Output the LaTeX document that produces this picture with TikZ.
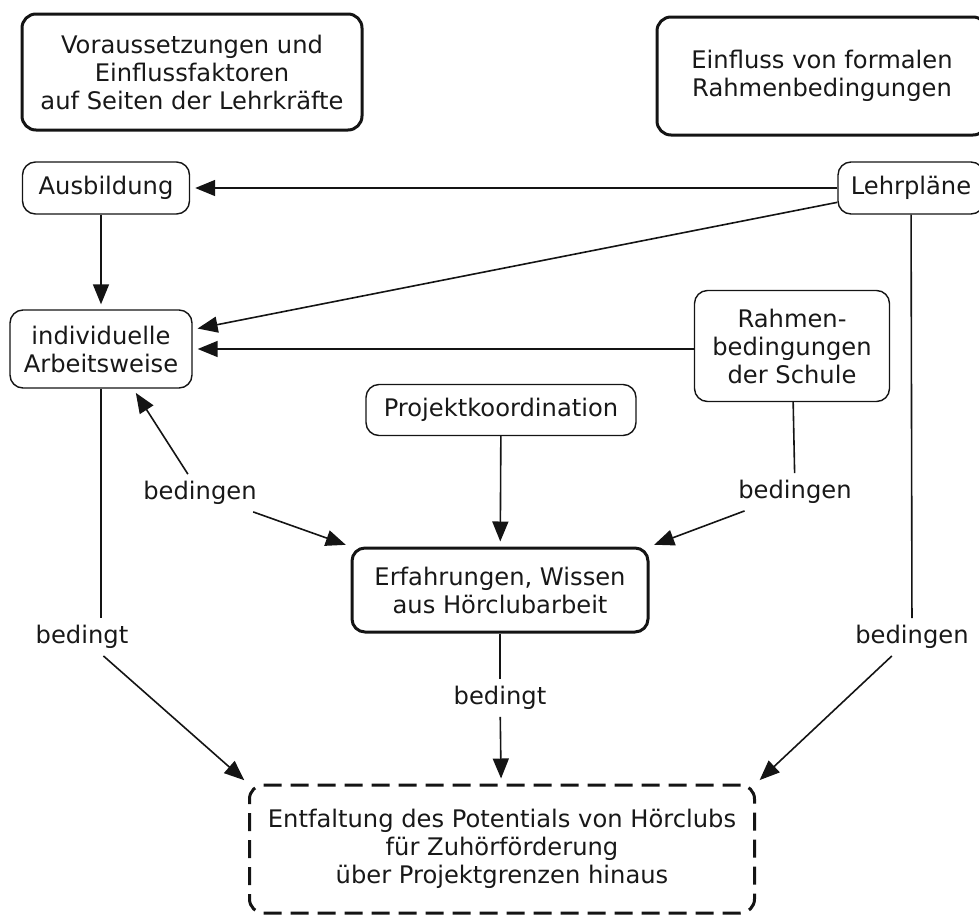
\documentclass[tikz,border=0pt]{standalone}
\usepackage{fontspec}
\setmainfont{DejaVu Sans}
\usetikzlibrary{arrows.meta,positioning}
\definecolor{mapink}{HTML}{141414}
\definecolor{maptext}{HTML}{181818}

\begin{document}
\begin{tikzpicture}[
    x=1pt, y=-1pt,
    every node/.style={font=\fontsize{24.2}{28}\selectfont, text=maptext, align=center, inner sep=0pt},
    headbox/.style={rectangle, rounded corners=14pt, draw=mapink, line width=3pt},
    cbox/.style={rectangle, rounded corners=13pt, draw=mapink, line width=1.4pt},
    keybox/.style={rectangle, rounded corners=13pt, draw=mapink, line width=3pt},
    goalbox/.style={rectangle, rounded corners=14pt, draw=mapink, line width=3pt, dash pattern=on 18pt off 9pt},
    lbl/.style={inner sep=7pt},
    link/.style={line width=1.6pt, draw=mapink},
    arr/.style={link, shorten >=5pt, -{Triangle[length=20pt, width=16pt]}}
]
    \useasboundingbox (0,0) rectangle (979,916);

    % Headers
    \node (teach) [headbox, minimum width=340pt, minimum height=116pt] at (192,72) {Voraussetzungen und\\Einflussfaktoren\\auf Seiten der Lehrkräfte};
    \node (formal) [headbox, minimum width=330pt, minimum height=118pt] at (822,76) {Einfluss von formalen\\Rahmenbedingungen};

    % Concepts
    \node (ausb) [cbox, minimum width=167pt, minimum height=52pt] at (106,188) {Ausbildung};
    \node (lehr) [cbox, minimum width=146pt, minimum height=52pt] at (911,188) {Lehrpläne};
    \node (indiv) [cbox, minimum width=182pt, minimum height=78pt] at (101,349) {individuelle\\Arbeitsweise};
    \node (rahmen) [cbox, minimum width=195pt, minimum height=111pt] at (792,346) {Rahmen-\\bedingungen\\der Schule};
    \node (proj) [cbox, minimum width=270pt, minimum height=51pt] at (501,410) {Projektkoordination};
    \node (erf) [keybox, minimum width=296pt, minimum height=84pt] at (500,590) {Erfahrungen, Wissen\\aus Hörclubarbeit};
    \node (entf) [goalbox, minimum width=505pt, minimum height=128pt] at (502,849) {Entfaltung des Potentials von Hörclubs\\für Zuhörförderung\\über Projektgrenzen hinaus};

    % Linking phrases
    \node (bedL) [lbl] at (200,493) {bedingen};
    \node (bedR) [lbl] at (795,492) {bedingen};
    \node (bedtL) [lbl] at (82,637) {bedingt};
    \node (bedFR) [lbl] at (912,637) {bedingen};
    \node (bedtC) [lbl] at (500,698) {bedingt};

    \draw [arr] (lehr) -- (ausb);
    \draw [arr] (indiv.north |- ausb.south) -- (indiv.north);
    \draw [arr] (lehr.191) -- (indiv.12);
    \draw [arr] (rahmen.west |- indiv.east) -- (indiv.east);

    \draw [arr] (bedL) -- (indiv.-51);
    \draw [arr] (bedL) -- (erf.north west);
    \draw [link] (rahmen) -- (bedR);
    \draw [arr] (bedR) -- (erf.north east);
    \draw [arr] (proj) -- (erf);

    \draw [link] (indiv.south) -- (indiv.south |- bedtL.north);
    \draw [arr] (bedtL) -- (entf.north west);
    \draw [link] (lehr) -- (bedFR);
    \draw [arr] (bedFR) -- (entf.north east);
    \draw [link] (erf) -- (bedtC);
    \draw [arr] (bedtC) -- (entf);
\end{tikzpicture}
\end{document}
